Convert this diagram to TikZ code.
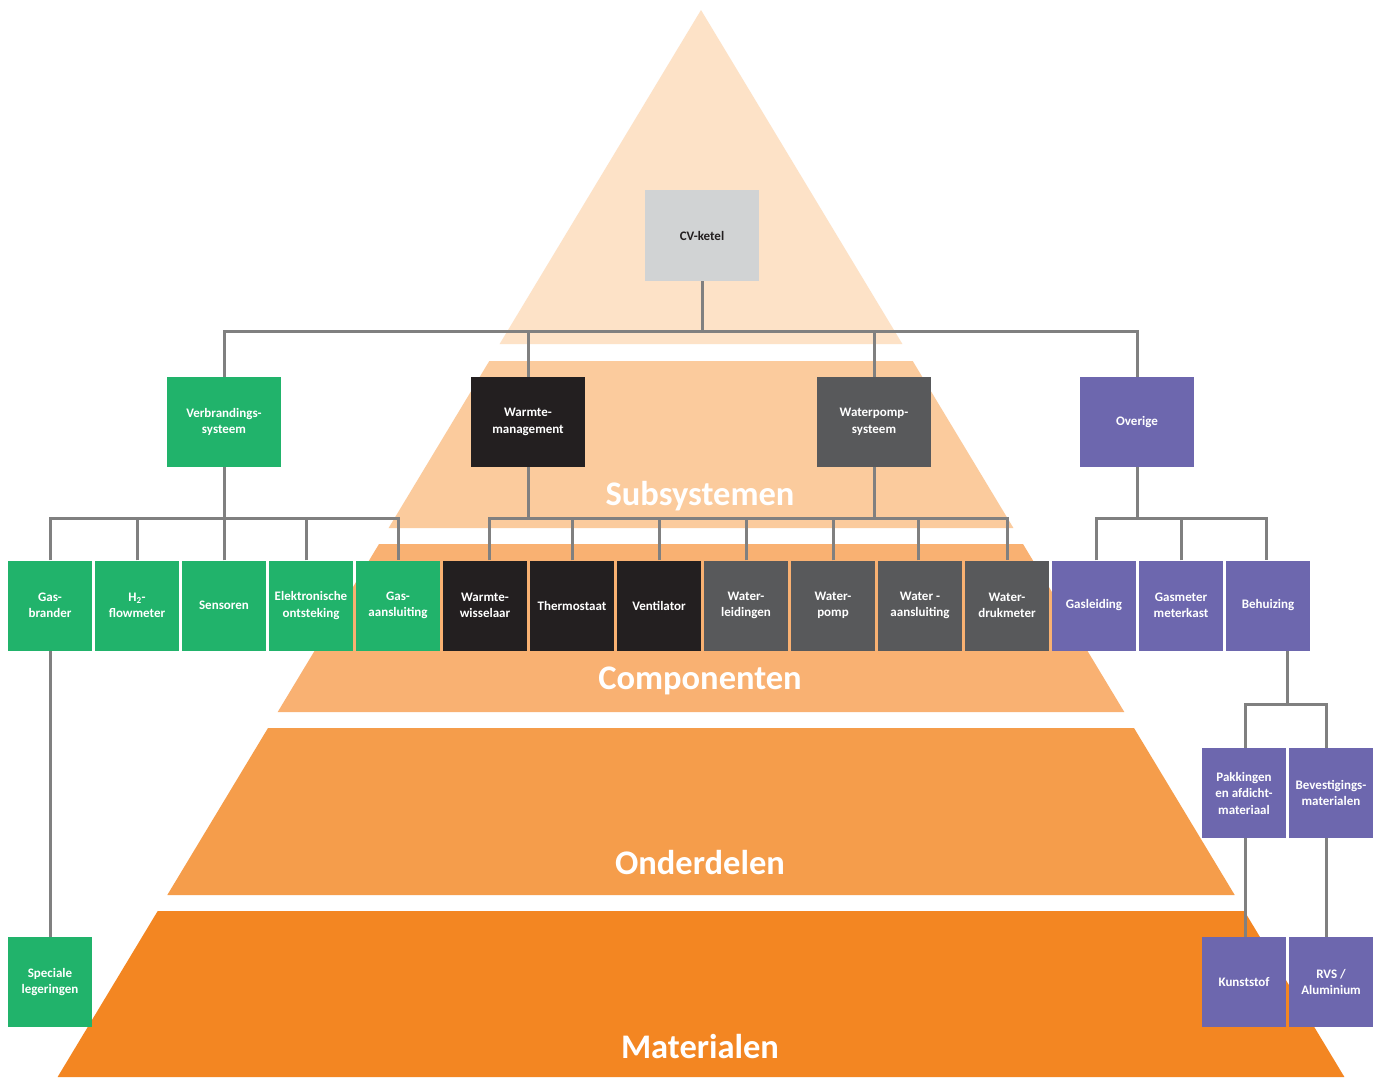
\documentclass[tikz,border=0pt]{standalone}
\usepackage{fontspec}
\setmainfont{Carlito}
\usetikzlibrary{calc}
\definecolor{cgreen}{RGB}{33,179,107}
\definecolor{cblack}{RGB}{35,31,32}
\definecolor{cdark}{RGB}{88,89,91}
\definecolor{cpurple}{RGB}{109,103,174}
\definecolor{clight}{RGB}{209,211,212}
\definecolor{bandA}{RGB}{253,226,199}
\definecolor{bandB}{RGB}{251,203,157}
\definecolor{bandC}{RGB}{249,177,114}
\definecolor{bandD}{RGB}{245,157,75}
\definecolor{bandE}{RGB}{243,134,34}
\definecolor{conncol}{RGB}{128,128,128}
\begin{document}
\begin{tikzpicture}[x=1pt,y=-1pt,
  box/.style={rectangle, inner sep=0pt, minimum width=84pt, minimum height=90pt,
    align=center, text=white, font=\bfseries\fontsize{13}{16.5}\selectfont},
  widebox/.style={box, minimum width=114pt},
  gbox/.style={box, fill=cgreen},
  kbox/.style={box, fill=cblack},
  dbox/.style={box, fill=cdark},
  pbox/.style={box, fill=cpurple},
  conn/.style={draw=conncol, line width=3pt},
  lvl/.style={text=white, font=\bfseries\fontsize{34.5}{40}\selectfont}
]
\useasboundingbox (0,0) rectangle (1378,1077);
\fill[white] (0,0) rectangle (1378,1077);

% pyramid bands
\fill[bandA] (701,10) -- (902.4,344) -- (499.6,344) -- cycle;
\fill[bandB] (489.3,361) -- (912.7,361) -- (1013.4,528) -- (388.6,528) -- cycle;
\fill[bandC] (379.0,544) -- (1023.0,544) -- (1124.3,712) -- (277.7,712) -- cycle;
\fill[bandD] (268.0,728) -- (1134.0,728) -- (1234.7,895) -- (167.3,895) -- cycle;
\fill[bandE] (157.7,911) -- (1244.3,911) -- (1344.4,1077) -- (57.6,1077) -- cycle;

% level labels
\node[lvl] (lsub) at (700,496) {Subsystemen};
\node[lvl] (lcomp) at (700,680.5) {Componenten};
\node[lvl] (lond) at (700,862.5) {Onderdelen};
\node[lvl] (lmat) at (700,1046.5) {Materialen};

% top
\node[box, minimum width=114pt, minimum height=91pt, fill=clight, text=cblack] (cv) at (702,235.5) {CV-ketel};

% subsystems
\node[widebox, fill=cgreen] (verb) at (224,422) {Verbrandings-\\systeem};
\node[widebox, fill=cblack] (warm) at (528,422) {Warmte-\\management};
\node[widebox, fill=cdark] (wps) at (874,422) {Waterpomp-\\systeem};
\node[widebox, fill=cpurple] (over) at (1137,422) {Overige};

% components
\node[gbox] (gasbr) at (50,605.5) {Gas-\\brander};
\node[gbox] (h2) at (137,605.5) {H\textsubscript{2}-\\flowmeter};
\node[gbox] (sens) at (224,605.5) {Sensoren};
\node[gbox] (elek) at (311,605.5) {Elektronische\\ontsteking};
\node[gbox] (gasa) at (398,605.5) {Gas-\\aansluiting};
\node[kbox] (wwis) at (485,605.5) {Warmte-\\wisselaar};
\node[kbox] (therm) at (572,605.5) {Thermostaat};
\node[kbox] (vent) at (659,605.5) {Ventilator};
\node[dbox] (wlei) at (746,605.5) {Water-\\leidingen};
\node[dbox] (wpomp) at (833,605.5) {Water-\\pomp};
\node[dbox] (waan) at (920,605.5) {Water -\\aansluiting};
\node[dbox] (wdruk) at (1007,605.5) {Water-\\drukmeter};
\node[pbox] (gasl) at (1094,605.5) {Gasleiding};
\node[pbox] (gasm) at (1181,605.5) {Gasmeter\\meterkast};
\node[pbox] (behu) at (1268,605.5) {Behuizing};

% parts
\node[pbox] (pakk) at (1244,793) {Pakkingen\\en afdicht-\\materiaal};
\node[pbox] (beve) at (1331,793) {Bevestigings-\\materialen};

% materials
\node[gbox] (spec) at (50,982) {Speciale\\legeringen};
\node[pbox] (kuns) at (1244,982) {Kunststof};
\node[pbox] (rvs) at (1331,982) {RVS /\\Aluminium};

% bus coordinates
\coordinate (busA) at (0,331);
\coordinate (busB) at (0,518);
\coordinate (busC) at (0,704);

% offset attachment points
\coordinate (elekN) at ($(elek.north)+(-5,0)$);
\coordinate (wwisN) at ($(wwis.north)+(4,0)$);
\coordinate (waanN) at ($(waan.north)+(-2,0)$);
\coordinate (gaslN) at ($(gasl.north)+(2,0)$);
\coordinate (behuN) at ($(behu.north)+(-2,0)$);
\coordinate (behuS) at ($(behu.south)+(19,0)$);
\coordinate (pakkN) at ($(pakk.north)+(1,0)$);
\coordinate (pakkS) at ($(pakk.south)+(1,0)$);
\coordinate (kunsN) at ($(kuns.north)+(1,0)$);
\coordinate (beveN) at ($(beve.north)+(-5,0)$);
\coordinate (beveS) at ($(beve.south)+(-5,0)$);
\coordinate (rvsN) at ($(rvs.north)+(-5,0)$);

% connectors: top level
\draw[conn] (cv.south) -- (cv.south |- busA);
\draw[conn] (verb.north) |- (over.north |- busA) -- (over.north);
\draw[conn] (warm.north) -- (warm.north |- busA);
\draw[conn] (wps.north) -- (wps.north |- busA);

% connectors: Verbrandingssysteem
\draw[conn] (gasbr.north) |- (gasa.north |- busB) -- (gasa.north);
\draw[conn] (verb.south) -- (verb.south |- busB);
\draw[conn] (h2.north) -- (h2.north |- busB);
\draw[conn] (sens.north) -- (sens.north |- busB);
\draw[conn] (elekN) -- (elekN |- busB);

% connectors: Warmte-management / Waterpompsysteem
\draw[conn] (wwisN) |- (wdruk.north |- busB) -- (wdruk.north);
\draw[conn] (warm.south) -- (warm.south |- busB);
\draw[conn] (wps.south) -- (wps.south |- busB);
\draw[conn] (therm.north) -- (therm.north |- busB);
\draw[conn] (vent.north) -- (vent.north |- busB);
\draw[conn] (wlei.north) -- (wlei.north |- busB);
\draw[conn] (wpomp.north) -- (wpomp.north |- busB);
\draw[conn] (waanN) -- (waanN |- busB);

% connectors: Overige
\draw[conn] (gaslN) |- (behuN |- busB) -- (behuN);
\draw[conn] (over.south) -- (over.south |- busB);
\draw[conn] (gasm.north) -- (gasm.north |- busB);

% connectors: Behuizing
\draw[conn] (behuS) -- (behuS |- busC);
\draw[conn] (pakkN) |- (beveN |- busC) -- (beveN);

% connectors: materials
\draw[conn] (gasbr.south) -- (spec.north);
\draw[conn] (pakkS) -- (kunsN);
\draw[conn] (beveS) -- (rvsN);
\end{tikzpicture}
\end{document}
